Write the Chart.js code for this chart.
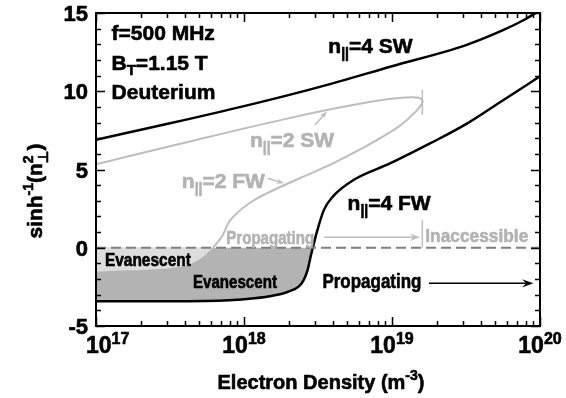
<!DOCTYPE html>
<html>
<head>
<meta charset="utf-8">
<script src="https://cdn.jsdelivr.net/npm/chart.js@4.4.1/dist/chart.umd.min.js"></script>
<style>
  html, body { margin: 0; padding: 0; background: #fff; }
</style>
</head>
<body>
<canvas id="chart" width="566" height="398"></canvas>
<script>
const FONT = '"Liberation Sans", Arial, "DejaVu Sans", sans-serif';
const GRAY_LINE = '#bdbdbd';
const GRAY_TEXT = '#b3b3b3';

// x values are log10 of electron density (m^-3)
const decades = [17, 18, 19, 20];

// n|| = 4 slow wave
const sw4LogN = [17.0, 17.5, 18.0, 18.5, 19.0, 19.5, 19.75, 19.9, 19.97];
const sw4Y    = [6.9, 7.95, 9.05, 10.25, 11.6, 12.95, 13.9, 14.6, 15.0];

// n|| = 4 fast wave
const fw4LogN = [17.0, 17.5, 17.9, 18.07, 18.2, 18.3, 18.39, 18.43, 18.45, 18.465,
                 18.49, 18.54, 18.6, 18.74, 18.99, 19.26, 19.5, 19.73, 20.0];
const fw4Y    = [-3.42, -3.42, -3.36, -3.23, -3.05, -2.8, -2.27, -1.42, -0.57, 0.0,
                 0.93, 2.42, 3.27, 4.33, 5.4, 6.68, 7.9, 9.3, 10.95];

// n|| = 2 slow wave -> turning point -> fast wave (one loop)
const n2LogN = [17.0, 17.676, 18.35, 18.8, 19.03, 19.18, 19.207,
                19.16, 19.03, 18.8, 18.58, 18.35, 18.07, 17.91, 17.85, 17.79];
const n2Y    = [5.33, 6.89, 8.38, 9.23, 9.55, 9.59, 9.34,
                8.7, 7.64, 6.36, 5.29, 4.33, 3.05, 1.8, 0.7, 0.0];

// n|| = 2 fast wave below zero (edge of light evanescent region)
const n2EvanLogN = [17.0, 17.17, 17.4, 17.62, 17.71, 17.79];
const n2EvanY    = [-1.53, -1.46, -1.37, -1.1, -0.67, 0.0];

const zeroLogN = [17, 20];
const zeroY = [0, 0];

// accessibility limit for n|| = 2
const cutoffLogN = 19.205;
const turnMarkY = [8.5, 10.1];
const accessMarkY = [0, 1.77];

// arrows
const grayArrowLogN = [18.54, 19.19];
const grayArrowY = 0.67;
const blackArrowLogN = [19.25, 19.955];
const blackArrowY = -2.27;
const sw2ArrowLogN = [18.48, 18.56];
const sw2ArrowY = [7.85, 8.7];
const fw2ArrowLogN = [18.16, 18.27];
const fw2ArrowY = [4.44, 4.12];

const pts = (logs, ys) => logs.map((l, i) => ({ x: 10 ** l, y: ys[i] }));

const fw4Evan = fw4LogN.map((l, i) => ({ l, y: fw4Y[i] })).filter(p => p.y <= 0);

// text drawing with sub/superscripts
function partWidth(ctx, p, size, small) {
  if (typeof p === 'string') {
    ctx.font = `bold ${size}px ${FONT}`;
    return ctx.measureText(p).width;
  }
  ctx.font = `bold ${small}px ${FONT}`;
  return Math.max(p.sup ? ctx.measureText(p.sup).width : 0,
                  p.sub ? ctx.measureText(p.sub).width : 0);
}

function richText(ctx, parts, x, y, o) {
  const size = o.size;
  const small = o.small || Math.round(size * 0.66);
  let total = 0;
  parts.forEach(p => total += partWidth(ctx, p, size, small));
  const sx = o.width ? o.width / total : 1;
  ctx.save();
  ctx.fillStyle = o.color || '#000';
  ctx.strokeStyle = o.color || '#000';
  ctx.lineWidth = 0.6;
  ctx.lineJoin = 'round';
  ctx.textBaseline = 'alphabetic';
  ctx.textAlign = 'left';
  ctx.translate(x, y);
  if (o.rotate) ctx.rotate(-Math.PI / 2);
  ctx.scale(sx, 1);
  let cx = o.align === 'center' ? -total / 2 : 0;
  if (o.minLeft !== undefined && !o.rotate) cx = Math.max(cx, (o.minLeft - x) / sx);
  const put = (t, dx, dy) => { ctx.fillText(t, dx, dy); ctx.strokeText(t, dx, dy); };
  parts.forEach(p => {
    const w = partWidth(ctx, p, size, small);
    if (typeof p === 'string') {
      ctx.font = `bold ${size}px ${FONT}`;
      put(p, cx, 0);
    } else {
      ctx.font = `bold ${small}px ${FONT}`;
      if (p.sup) put(p.sup, cx, o.supDy !== undefined ? o.supDy : -size * 0.42);
      if (p.sub) put(p.sub, cx, o.subDy !== undefined ? o.subDy : size * 0.26);
    }
    cx += w;
  });
  ctx.restore();
}

function arrow(ctx, x1, y1, x2, y2, color, lw, head) {
  const a = Math.atan2(y2 - y1, x2 - x1);
  ctx.save();
  ctx.strokeStyle = color;
  ctx.fillStyle = color;
  ctx.lineWidth = lw;
  ctx.beginPath();
  ctx.moveTo(x1, y1);
  ctx.lineTo(x2 - Math.cos(a) * head * 0.5, y2 - Math.sin(a) * head * 0.5);
  ctx.stroke();
  ctx.beginPath();
  ctx.moveTo(x2, y2);
  ctx.lineTo(x2 - head * Math.cos(a - 0.35), y2 - head * Math.sin(a - 0.35));
  ctx.lineTo(x2 - head * 0.6 * Math.cos(a), y2 - head * 0.6 * Math.sin(a));
  ctx.lineTo(x2 - head * Math.cos(a + 0.35), y2 - head * Math.sin(a + 0.35));
  ctx.closePath();
  ctx.fill();
  ctx.restore();
}

const labels = [
  { parts: ['f=500 MHz'], at: [17.105, 13.28], size: 21 },
  { parts: ['B', { sub: 'T' }, '=1.15 T'], at: [17.105, 11.36], size: 21, small: 15, subDy: 5 },
  { parts: ['Deuterium'], at: [17.105, 9.51], size: 21 },
  { parts: ['n', { sub: '||' }, '=4 SW'], at: [18.57, 12.43], size: 21, small: 14, subDy: 5 },
  { parts: ['n', { sub: '||' }, '=2 SW'], at: [18.04, 6.46], size: 21, small: 14, subDy: 5, color: GRAY_TEXT },
  { parts: ['n', { sub: '||' }, '=2 FW'], at: [17.58, 3.8], size: 21, small: 14, subDy: 5, color: GRAY_TEXT },
  { parts: ['n', { sub: '||' }, '=4 FW'], at: [18.70, 2.42], size: 21, small: 14, subDy: 5 },
  { parts: ['Propagating'], at: [17.88, 0.24], size: 18, width: 88, color: GRAY_TEXT },
  { parts: ['Inaccessible'], at: [19.225, 0.39], size: 19, width: 103, color: GRAY_TEXT },
  { parts: ['Evanescent'], at: [17.06, -1.16], size: 18, width: 86 },
  { parts: ['Evanescent'], at: [17.655, -2.59], size: 18, width: 84 },
  { parts: ['Propagating'], at: [18.53, -2.59], size: 20, width: 99 }
];

const overlay = {
  id: 'overlay',
  afterDatasetsDraw(chart) {
    const { ctx, scales: { x, y } } = chart;
    const px = v => x.getPixelForValue(10 ** v);
    const py = v => y.getPixelForValue(v);

    arrow(ctx, px(grayArrowLogN[0]), py(grayArrowY), px(grayArrowLogN[1]), py(grayArrowY), GRAY_LINE, 1.5, 11);
    arrow(ctx, px(blackArrowLogN[0]), py(blackArrowY), px(blackArrowLogN[1]), py(blackArrowY), '#000', 1.5, 12);
    arrow(ctx, px(sw2ArrowLogN[0]), py(sw2ArrowY[0]), px(sw2ArrowLogN[1]), py(sw2ArrowY[1]), GRAY_LINE, 1.5, 8);
    arrow(ctx, px(fw2ArrowLogN[0]), py(fw2ArrowY[0]), px(fw2ArrowLogN[1]), py(fw2ArrowY[1]), GRAY_LINE, 1.5, 8);

    labels.forEach(l => {
      richText(ctx, l.parts, px(l.at[0]), py(l.at[1]), l);
    });
  },
  afterDraw(chart) {
    const { ctx, chartArea: a, scales: { x, y } } = chart;
    ctx.save();
    ctx.strokeStyle = '#000';
    ctx.lineWidth = 2;
    ctx.strokeRect(a.left, a.top, a.right - a.left, a.bottom - a.top);

    // inward ticks
    ctx.lineWidth = 1.5;
    ctx.beginPath();
    for (let v = -5; v <= 15; v++) {
      const len = v % 5 === 0 ? 9 : 5;
      const yy = Math.round(y.getPixelForValue(v)) + 0.5;
      ctx.moveTo(a.left, yy); ctx.lineTo(a.left + len, yy);
      ctx.moveTo(a.right, yy); ctx.lineTo(a.right - len, yy);
    }
    decades.forEach(d => {
      for (let m = 1; m <= 9; m++) {
        if (d === 20 && m > 1) break;
        const len = m === 1 ? 9 : 5;
        const xx = Math.round(x.getPixelForValue(m * 10 ** d)) + 0.5;
        ctx.moveTo(xx, a.bottom); ctx.lineTo(xx, a.bottom - len);
        ctx.moveTo(xx, a.top); ctx.lineTo(xx, a.top + len);
      }
    });
    ctx.stroke();
    ctx.restore();

    // x tick labels 10^n
    decades.forEach(d => {
      richText(ctx, ['10', { sup: String(d) }], x.getPixelForValue(10 ** d), 353,
        { size: 23, small: 16, supDy: -9, align: 'center', minLeft: 86 });
    });

    // y tick labels
    [-5, 0, 5, 10, 15].forEach(v => {
      const t = String(v);
      const ctx2 = ctx;
      ctx2.font = `bold 22px ${FONT}`;
      const w = ctx2.measureText(t).width;
      richText(ctx, [t], a.left - 8 - w, y.getPixelForValue(v) + 8, { size: 22 });
    });

    // axis titles
    richText(ctx, ['Electron Density (m', { sup: '-3' }, ')'], (a.left + a.right) / 2 + 3, 389,
      { size: 20, small: 14, supDy: -9, align: 'center' });
    richText(ctx, ['sinh', { sup: '-1' }, '(n', { sup: '2', sub: '\u22A5' }, ')'], 42, 191,
      { size: 21, small: 14, supDy: -9, subDy: 6, align: 'center', rotate: true });
  }
};

const baseLine = { pointRadius: 0, fill: false };

const data = {
  datasets: [
    { ...baseLine, label: 'zero', data: pts(zeroLogN, zeroY), borderColor: '#7f7f7f', borderWidth: 2, borderDash: [10, 5] },
    { ...baseLine, label: 'n||=4 SW', data: pts(sw4LogN, sw4Y), borderColor: '#000', borderWidth: 2.5, cubicInterpolationMode: 'monotone' },
    { ...baseLine, label: 'n||=4 FW', data: pts(fw4LogN, fw4Y), borderColor: '#000', borderWidth: 2.5, cubicInterpolationMode: 'monotone' },
    { ...baseLine, label: 'n||=2', data: pts(n2LogN, n2Y), borderColor: GRAY_LINE, borderWidth: 2, tension: 0.3 },
    { ...baseLine, label: 'turn', data: pts([cutoffLogN, cutoffLogN], turnMarkY), borderColor: GRAY_LINE, borderWidth: 1.5 },
    { ...baseLine, label: 'access', data: pts([cutoffLogN, cutoffLogN], accessMarkY), borderColor: GRAY_LINE, borderWidth: 1.5 },
    { pointRadius: 0, label: 'evanescent n||=2', data: pts(n2EvanLogN, n2EvanY), borderWidth: 0,
      backgroundColor: '#dddddd', fill: { value: 0 }, cubicInterpolationMode: 'monotone' },
    { pointRadius: 0, label: 'evanescent n||=4', data: pts(fw4Evan.map(p => p.l), fw4Evan.map(p => p.y)), borderWidth: 0,
      backgroundColor: '#b3b3b3', fill: { value: 0 }, cubicInterpolationMode: 'monotone' }
  ]
};

const config = {
  type: 'line',
  data: data,
  options: {
    responsive: false,
    animation: false,
    devicePixelRatio: 1,
    events: [],
    layout: { padding: { top: 13, right: 26, left: 0, bottom: 0 } },
    plugins: {
      legend: { display: false },
      tooltip: { enabled: false }
    },
    scales: {
      x: {
        type: 'logarithmic',
        min: 1e17,
        max: 1e20,
        grid: { display: false, drawTicks: false },
        border: { display: false },
        ticks: { display: false },
        afterFit(s) { s.height = 72; }
      },
      y: {
        type: 'linear',
        min: -5,
        max: 15,
        grid: { display: false, drawTicks: false },
        border: { display: false },
        ticks: { display: false, stepSize: 5 },
        afterFit(s) { s.width = 96; }
      }
    }
  },
  plugins: [overlay]
};

const chart = new Chart(document.getElementById('chart'), config);
</script>
</body>
</html>
